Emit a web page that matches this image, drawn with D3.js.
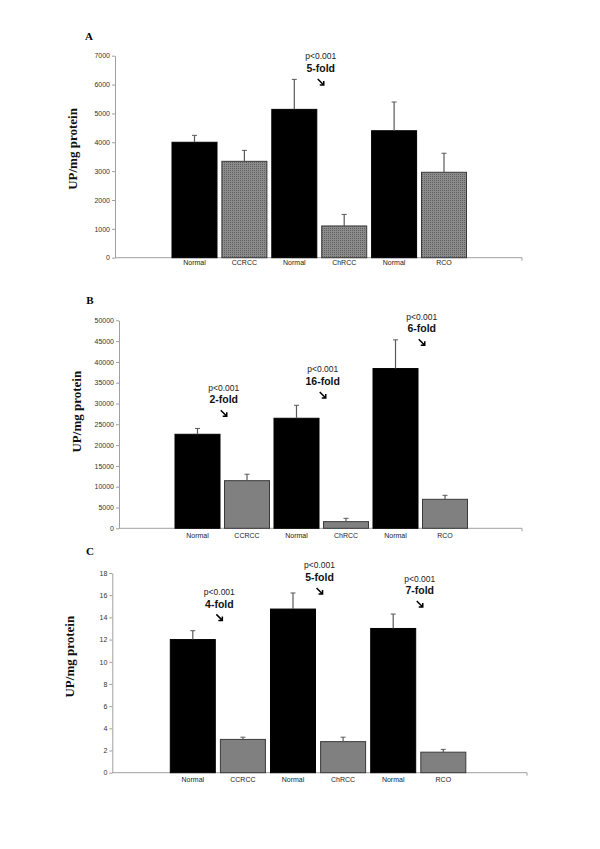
<!DOCTYPE html>
<html><head><meta charset="utf-8">
<script src="https://cdn.jsdelivr.net/npm/d3@7/dist/d3.min.js"></script>
<style>body{margin:0;background:#fff}svg{display:block}</style>
</head><body>
<script>
const categories = ["Normal","CCRCC","Normal","ChRCC","Normal","RCO"];
const isNormal = [true,false,true,false,true,false];
const panelLabels = ["A","B","C"];
const yTitle = "UP/mg protein";

const aValues = [4000, 3340, 5140, 1100, 4400, 2960];
const aErrors = [240, 380, 1040, 400, 995, 660];
const aTicks = [0,1000,2000,3000,4000,5000,6000,7000];

const bValues = [22600, 11450, 26450, 1600, 38400, 6970];
const bErrors = [1400, 1550, 3120, 800, 6900, 960];
const bTicks = [0,5000,10000,15000,20000,25000,30000,35000,40000,45000,50000];

const cValues = [12.0, 3.0, 14.75, 2.8, 13.0, 1.85];
const cErrors = [0.8, 0.2, 1.45, 0.4, 1.3, 0.25];
const cTicks = [0,2,4,6,8,10,12,14,16,18];

// annotations: after which bar (index of normal bar), level in data units of arrow, texts
const aNotes = [{after:2, level:6090, p:"p<0.001", fold:"5-fold"}];
const bNotes = [{after:0, level:27640, p:"p<0.001", fold:"2-fold"},
                {after:2, level:32040, p:"p<0.001", fold:"16-fold"},
                {after:4, level:44710, p:"p<0.001", fold:"6-fold"}];
const cNotes = [{after:0, level:14.0, p:"p<0.001", fold:"4-fold"},
                {after:2, level:16.38, p:"p<0.001", fold:"5-fold"},
                {after:4, level:15.2, p:"p<0.001", fold:"7-fold"}];

const svg = d3.select("body").append("svg").attr("width",600).attr("height",849);
const defs = svg.append("defs");
const pat = defs.append("pattern").attr("id","dots").attr("patternUnits","userSpaceOnUse")
  .attr("width",2).attr("height",2);
pat.append("rect").attr("width",2).attr("height",2).attr("fill","#8c8c8c");
pat.append("rect").attr("width",1).attr("height",1).attr("fill","#5e5e5e");

const panels = [
  {label:panelLabels[0], values:aValues, errors:aErrors, ticks:aTicks, notes:aNotes, dotted:true,
   axisX:115, y0:257.7, yTop:55.7, barStart:172, step:49.9, axisEnd:522, letter:[89,36], titleY:149, catY:262.5},
  {label:panelLabels[1], values:bValues, errors:bErrors, ticks:bTicks, notes:bNotes, dotted:false,
   axisX:119, y0:528.3, yTop:320.3, barStart:175, step:49.5, axisEnd:522, letter:[90,300], titleY:411.7, catY:535.3},
  {label:panelLabels[2], values:cValues, errors:cErrors, ticks:cTicks, notes:cNotes, dotted:false,
   axisX:112.3, y0:772.7, yTop:573, barStart:170.3, step:50.1, axisEnd:527, letter:[90,551], titleY:656.7, catY:779.5}
];

panels.forEach(P => {
  const g = svg.append("g");
  const maxT = P.ticks[P.ticks.length-1];
  const y = d3.scaleLinear().domain([0,maxT]).range([P.y0,P.yTop]);
  const pIn = (P.step-45)/P.step;
  const x = d3.scaleBand().domain(d3.range(categories.length))
    .range([P.barStart, P.barStart + 6*P.step - (P.step-45)]).paddingInner(pIn).paddingOuter(0);

  g.append("text").attr("x",P.letter[0]).attr("y",P.letter[1]).attr("dy","0.35em")
    .attr("text-anchor","middle").attr("font-family","Liberation Serif, Times New Roman, serif")
    .attr("font-weight","bold").attr("font-size",11).text(P.label);
  g.append("text").attr("transform",`translate(${P.axisX-38},${P.titleY}) rotate(-90)`)
    .attr("text-anchor","middle").attr("font-family","Liberation Serif, Times New Roman, serif")
    .attr("font-weight","bold").attr("font-size",13).attr("fill","#111").text(yTitle);

  const ya = g.append("g").attr("transform",`translate(${P.axisX},0)`)
    .call(d3.axisLeft(y).tickValues(P.ticks).tickSize(3).tickSizeOuter(0).tickPadding(2).tickFormat(d3.format("d")));
  ya.select(".domain").attr("stroke","#a0a0a0");
  ya.selectAll(".tick line").attr("stroke","#a0a0a0");
  ya.selectAll("text").attr("font-family","Liberation Sans, Arial, sans-serif").attr("font-size",7).attr("fill","#333");

  g.append("line").attr("x1",P.axisX).attr("x2",P.axisEnd).attr("y1",P.y0).attr("y2",P.y0)
    .attr("stroke","#a0a0a0").attr("stroke-width",1);
  g.append("line").attr("x1",P.axisEnd).attr("x2",P.axisEnd).attr("y1",P.y0).attr("y2",P.y0+3)
    .attr("stroke","#a0a0a0");

  const tumourFill = P.dotted ? "url(#dots)" : "#808080";
  g.selectAll("rect.bar").data(P.values).enter().append("rect").attr("class","bar")
    .attr("x",(d,i)=>x(i)).attr("width",x.bandwidth())
    .attr("y",d=>y(d)).attr("height",d=>P.y0-y(d))
    .attr("fill",(d,i)=>isNormal[i] ? "#000" : tumourFill)
    .attr("stroke",(d,i)=>isNormal[i] ? "#000" : "#3a3a3a").attr("stroke-width",1);

  P.values.forEach((v,i) => {
    const cx = x(i) + x.bandwidth()/2;
    const col = "#5a5a5a";
    g.append("line").attr("x1",cx).attr("x2",cx).attr("y1",y(v)).attr("y2",y(v+P.errors[i]))
      .attr("stroke",col).attr("stroke-width",1.2);
    g.append("line").attr("x1",cx-2.5).attr("x2",cx+2.5).attr("y1",y(v+P.errors[i])).attr("y2",y(v+P.errors[i]))
      .attr("stroke",col).attr("stroke-width",1);
  });

  g.selectAll("text.cat").data(categories).enter().append("text").attr("class","cat")
    .attr("x",(d,i)=>x(i)+x.bandwidth()/2).attr("y",P.catY).attr("dy","0.35em")
    .attr("text-anchor","middle").attr("font-family","Liberation Sans, Arial, sans-serif")
    .attr("font-size",7).attr("fill","#222").text(d=>d);

  P.notes.forEach(n => {
    const gx = (x(n.after) + x.bandwidth() + x(n.after+1))/2 + 1.5;
    const ay = y(n.level);
    g.append("text").attr("x",gx).attr("y",ay-25.5).attr("dy","0.35em").attr("text-anchor","middle")
      .attr("font-family","Liberation Sans, Arial, sans-serif").attr("font-size",8.5).attr("fill","#222").text(n.p);
    g.append("text").attr("x",gx).attr("y",ay-13.5).attr("dy","0.35em").attr("text-anchor","middle")
      .attr("font-family","Liberation Sans, Arial, sans-serif").attr("font-weight","bold")
      .attr("font-size",10.5).attr("fill","#111").text(n.fold);
    g.append("path").attr("d",`M${gx-3},${ay-3}L${gx+3},${ay+3}M${gx-1},${ay+3}L${gx+3},${ay+3}L${gx+3},${ay-1}`)
      .attr("fill","none").attr("stroke","#000").attr("stroke-width",1.5);
  });
});
</script>
</body></html>
